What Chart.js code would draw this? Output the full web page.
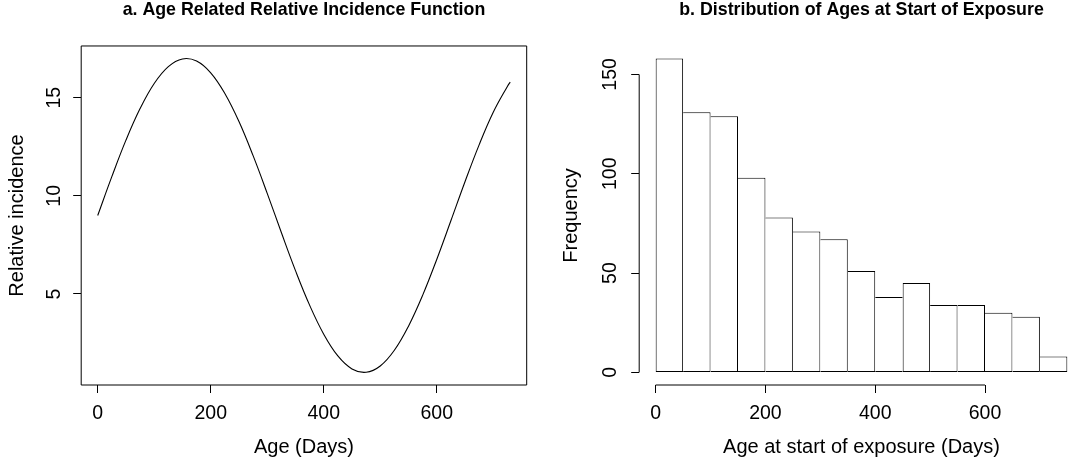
<!DOCTYPE html>
<html>
<head>
<meta charset="utf-8">
<title>Relative incidence and ages at start of exposure</title>
<script src="https://cdn.jsdelivr.net/npm/chart.js@4.4.1/dist/chart.umd.min.js"></script>
<style>
  html, body { margin: 0; padding: 0; background: #fff; }
  #wrap { position: relative; width: 1070px; height: 465px; overflow: hidden; }
  #wrap canvas { position: absolute; top: 0; }
  #incidenceChart { left: 0; }
  #agesChart { left: 535px; }
</style>
</head>
<body>
<div id="wrap">
  <canvas id="incidenceChart" width="535" height="465"></canvas>
  <canvas id="agesChart" width="560" height="465"></canvas>
</div>
<script>
// panel a: relative incidence by age
const ageDays = [0, 25, 50, 75, 100, 125, 150, 175, 200, 225, 250, 275, 300, 325, 350,
  375, 400, 425, 450, 475, 500, 525, 550, 575, 600, 625, 650, 675, 700, 725, 730];
const relIncidence = [9.00, 10.98, 12.84, 14.45, 15.73, 16.59, 16.98, 16.87, 16.27, 15.22, 13.79, 12.05,
  10.13, 8.13, 6.19, 4.43, 2.95, 1.84, 1.18, 1.01, 1.33, 2.13, 3.36, 4.93, 6.76, 8.73, 10.72, 12.60,
  14.26, 15.58, 15.80];
const ageTicks = [0, 200, 400, 600];
const incidenceTicks = [5, 10, 15];

// panel b: ages at start of exposure, 50 day bins
const binEdges = [0, 50, 100, 150, 200, 250, 300, 350, 400, 450, 500, 550, 600, 650, 700, 750];
const binCounts = [158, 131, 129, 98, 78, 71, 67, 51, 38, 45, 34, 34, 30, 28, 8];
const exposureTicks = [0, 200, 400, 600];
const countTicks = [0, 50, 100, 150];

Chart.defaults.font.family = "'Liberation Sans', Arial, Helvetica, sans-serif";
Chart.defaults.color = '#000';

const FONT_TICK = { size: 19.5, lineHeight: 1.2 };
const FONT_AXIS = { size: 20, lineHeight: 1.2 };
const FONT_MAIN = { size: 17.8, weight: 'bold', lineHeight: 1.1 };

// box round the plot region, or axis lines running from first to last tick
const framePlugin = {
  id: 'frame',
  afterDatasetsDraw(chart, args, opts) {
    const { ctx, chartArea: a, scales } = chart;
    ctx.save();
    ctx.strokeStyle = '#000';
    ctx.lineWidth = 1;
    ctx.beginPath();
    if (opts.box) {
      ctx.rect(a.left, a.top, a.right - a.left, a.bottom - a.top);
    } else {
      const xt = scales.x.ticks;
      const yt = scales.y.ticks;
      ctx.moveTo(scales.x.getPixelForValue(xt[0].value), a.bottom);
      ctx.lineTo(scales.x.getPixelForValue(xt[xt.length - 1].value), a.bottom);
      ctx.moveTo(a.left, scales.y.getPixelForValue(yt[0].value));
      ctx.lineTo(a.left, scales.y.getPixelForValue(yt[yt.length - 1].value));
    }
    ctx.stroke();
    ctx.restore();
  }
};

function tickGrid() {
  return { display: true, drawOnChartArea: false, drawTicks: true, tickLength: 8,
    color: '#000', lineWidth: 1, offset: false };
}

function xAxis(title, ticks, min, max) {
  return {
    type: 'linear', min, max, offset: false,
    afterBuildTicks: s => { s.ticks = ticks.map(v => ({ value: v })); },
    afterFit: s => { s.height = 80; },
    border: { display: false },
    grid: tickGrid(),
    ticks: { font: FONT_TICK, color: '#000', padding: 8.5, maxRotation: 0, autoSkip: false },
    title: { display: true, text: title, font: FONT_AXIS, color: '#000', padding: { top: 0, bottom: 5.9 } }
  };
}

function yAxis(title, ticks, min, max, width, tickPad, titlePad) {
  return {
    type: 'linear', min, max,
    afterBuildTicks: s => { s.ticks = ticks.map(v => ({ value: v })); },
    afterFit: s => { s.width = width; },
    border: { display: false },
    grid: tickGrid(),
    ticks: { font: FONT_TICK, color: '#000', padding: tickPad, minRotation: 90, maxRotation: 90,
      crossAlign: 'center', autoSkip: false },
    title: { display: true, text: title, font: FONT_AXIS, color: '#000', padding: { top: titlePad, bottom: 0 } }
  };
}

function mainTitle(text) {
  return { display: true, text, fullSize: false, font: FONT_MAIN, color: '#000',
    padding: { top: 0, bottom: 26.4 } };
}

new Chart(document.getElementById('incidenceChart'), {
  type: 'line',
  data: {
    datasets: [{
      data: ageDays.map((d, i) => ({ x: d, y: relIncidence[i] })),
      borderColor: '#000',
      borderWidth: 1.1,
      pointRadius: 0,
      fill: false,
      tension: 0.4
    }]
  },
  options: {
    responsive: false,
    animation: false,
    devicePixelRatio: 1,
    layout: { padding: { left: 0, right: 8.3, top: 0, bottom: 0 } },
    plugins: {
      legend: { display: false },
      tooltip: { enabled: false },
      title: mainTitle('a. Age Related Relative Incidence Function'),
      frame: { box: true }
    },
    scales: {
      x: xAxis('Age (Days)', ageTicks, -29.2, 759.2),
      y: yAxis('Relative incidence', incidenceTicks, 0.36, 17.64, 81.2, 8.2, 5.1)
    }
  },
  plugins: [framePlugin]
});

const binMids = binCounts.map((c, i) => (binEdges[i] + binEdges[i + 1]) / 2);
const lastBin = binCounts.length - 1;

// shared edge between two bins is drawn once, by the taller bin
function binBorder(ctx) {
  const i = ctx.dataIndex;
  return {
    top: 1,
    bottom: 1,
    left: i === 0 || binCounts[i] > binCounts[i - 1] ? 1 : 0,
    right: i === lastBin || binCounts[i] >= binCounts[i + 1] ? 1 : 0
  };
}

new Chart(document.getElementById('agesChart'), {
  type: 'bar',
  data: {
    datasets: [{
      data: binMids.map((m, i) => ({ x: m, y: binCounts[i] })),
      backgroundColor: '#fff',
      borderColor: '#000',
      borderWidth: binBorder,
      borderSkipped: false,
      inflateAmount: 0,
      barPercentage: 1,
      categoryPercentage: 1
    }]
  },
  options: {
    responsive: false,
    animation: false,
    devicePixelRatio: 1,
    layout: { padding: { left: 0, right: 11.2, top: 0, bottom: 0 } },
    plugins: {
      legend: { display: false },
      tooltip: { enabled: false },
      title: mainTitle('b. Distribution of Ages at Start of Exposure'),
      frame: { box: false }
    },
    scales: {
      x: xAxis('Age at start of exposure (Days)', exposureTicks, -30, 780),
      y: yAxis('Frequency', countTicks, -6.32, 164.32, 104.2, 4.4, 24.7)
    }
  },
  plugins: [framePlugin]
});
</script>
</body>
</html>
